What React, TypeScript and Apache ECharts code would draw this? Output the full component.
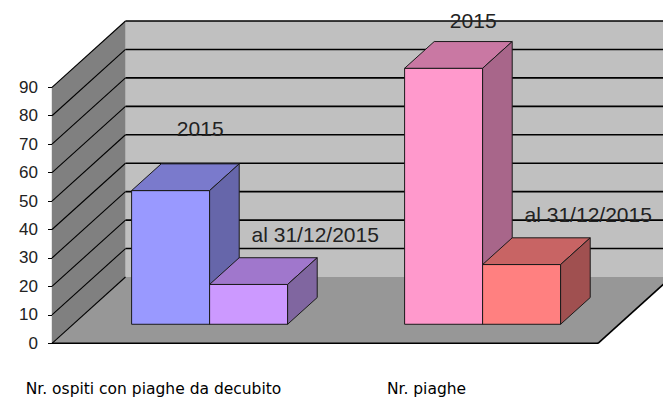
import React, { useEffect, useRef } from "react";
import * as echarts from "echarts";

// ---- data ----
const categories = ["Nr. ospiti con piaghe da decubito", "Nr. piaghe"];
const seriesNames = ["2015", "al 31/12/2015"];
const values2015 = [47, 90];
const valuesAl31 = [14, 21];
const yMin = 0;
const yMax = 90;
const yStep = 10;

// ---- colours (per category) ----
const front2015 = ["#9999ff", "#ff99cc"];
const top2015 = ["#7a7acc", "#c978a3"];
const side2015 = ["#6666aa", "#a8668a"];
const frontAl31 = ["#cc99ff", "#ff8080"];
const topAl31 = ["#a077cc", "#c86464"];
const sideAl31 = ["#8066a0", "#a05050"];

// ---- 3D projection (pixels) ----
const DX = 73.5;
const DY = -66.3;
const F0 = 0.287; // bar front depth fraction
const F1 = 0.69; // bar back depth fraction

const ARIAL = "'Liberation Sans', Arial, sans-serif";

function wallsRender(params: any, api: any) {
  const cs = params.coordSys;
  const L = cs.x;
  const R = cs.x + cs.width;
  const T = cs.y;
  const B = cs.y + cs.height;
  const children: any[] = [];
  children.push({
    type: "polygon",
    shape: { points: [[L + DX, T + DY], [R + DX, T + DY], [R + DX, B + DY], [L + DX, B + DY]] },
    style: { fill: "#c0c0c0" },
  });
  children.push({
    type: "polygon",
    shape: { points: [[L, T], [L + DX, T + DY], [L + DX, B + DY], [L, B]] },
    style: { fill: "#808080" },
  });
  children.push({
    type: "polygon",
    shape: { points: [[L, B], [R, B], [R + DX, B + DY], [L + DX, B + DY]] },
    style: { fill: "#979797" },
  });
  for (let v = yMin; v <= yMax; v += yStep) {
    const y = api.coord([0, v])[1];
    children.push({
      type: "line",
      shape: { x1: L, y1: y, x2: L + DX, y2: y + DY },
      style: { stroke: "#000", lineWidth: 1.1 },
    });
    if (v > yMin) {
      children.push({
        type: "line",
        shape: { x1: L + DX, y1: y + DY, x2: R + DX, y2: y + DY },
        style: { stroke: "#000", lineWidth: 1.6 },
      });
    }
  }
  children.push({
    type: "line",
    shape: { x1: L, y1: B, x2: R, y2: B },
    style: { stroke: "#000", lineWidth: 1.6 },
  });
  children.push({
    type: "line",
    shape: { x1: R, y1: B, x2: R + DX, y2: B + DY },
    style: { stroke: "#000", lineWidth: 1.6 },
  });
  return { type: "group", children };
}

function makeBarRender(
  seriesIdx: number,
  name: string,
  fronts: string[],
  tops: string[],
  sides: string[],
  labelDx: number,
  labelDy: number
) {
  return (params: any, api: any) => {
    const cat = api.value(0);
    const v = api.value(1);
    const base = api.coord([cat, 0]);
    const tp = api.coord([cat, v]);
    const band = api.size([1, 0])[0];
    const bw = band / 3.5;
    const x0 = base[0] + (seriesIdx === 0 ? -bw : 0);
    const x1 = x0 + bw;
    const fdx = DX * F0;
    const fdy = DY * F0;
    const bdx = DX * F1;
    const bdy = DY * F1;
    const yb = base[1] + fdy;
    const yt = tp[1] + fdy;
    const ytb = tp[1] + bdy;
    const ybb = base[1] + bdy;
    const stroke = { stroke: "#1a1a1a", lineWidth: 1, lineJoin: "round" };
    const idx = params.dataIndex;
    const labelX = (x0 + x1) / 2 + bdx + labelDx;
    let labelY = ytb - labelDy;
    if (labelY < 20) labelY = 20;
    return {
      type: "group",
      children: [
        {
          type: "polygon",
          shape: { points: [[x0 + fdx, yt], [x1 + fdx, yt], [x1 + fdx, yb], [x0 + fdx, yb]] },
          style: { fill: fronts[idx], ...stroke },
        },
        {
          type: "polygon",
          shape: { points: [[x0 + fdx, yt], [x1 + fdx, yt], [x1 + bdx, ytb], [x0 + bdx, ytb]] },
          style: { fill: tops[idx], ...stroke },
        },
        {
          type: "polygon",
          shape: { points: [[x1 + fdx, yt], [x1 + bdx, ytb], [x1 + bdx, ybb], [x1 + fdx, yb]] },
          style: { fill: sides[idx], ...stroke },
        },
        {
          type: "text",
          x: labelX,
          y: labelY,
          style: {
            text: name,
            fill: "#222",
            font: "21px " + ARIAL,
            align: "center",
            verticalAlign: "middle",
          },
        },
      ],
    };
  };
}

export default function App() {
  const ref = useRef<HTMLDivElement>(null);
  useEffect(() => {
    if (!ref.current) return;
    const chart = echarts.init(ref.current, undefined, { renderer: "svg" });
    const option: any = {
      animation: false,
      backgroundColor: "#ffffff",
      textStyle: { fontFamily: ARIAL },
      grid: { left: 52, right: 65, top: 87.3, bottom: 58.7, containLabel: false },
      xAxis: {
        type: "category",
        data: categories,
        boundaryGap: true,
        axisLine: { show: false },
        axisTick: { show: false },
        splitLine: { show: false },
        axisLabel: {
          interval: 0,
          margin: 38,
          padding: [0, 70, 0, 0],
          color: "#000",
          fontSize: 15.5,
          fontFamily: "'DejaVu Sans', sans-serif",
        },
      },
      yAxis: {
        type: "value",
        min: yMin,
        max: yMax,
        interval: yStep,
        axisLine: { show: true, lineStyle: { color: "#000", width: 1.2 } },
        axisTick: { show: true, length: 4, lineStyle: { color: "#000" } },
        splitLine: { show: false },
        axisLabel: { color: "#222", fontSize: 17, margin: 14, fontFamily: ARIAL },
      },
      series: [
        {
          type: "custom",
          name: "walls",
          renderItem: wallsRender,
          data: [[0, 0]],
          encode: { x: 0, y: 1 },
          silent: true,
          z: 1,
        },
        {
          type: "custom",
          name: seriesNames[0],
          renderItem: makeBarRender(0, seriesNames[0], front2015, top2015, side2015, 0, 35.5),
          data: values2015.map((v, i) => [i, v]),
          encode: { x: 0, y: 1 },
          z: 2,
        },
        {
          type: "custom",
          name: seriesNames[1],
          renderItem: makeBarRender(1, seriesNames[1], frontAl31, topAl31, sideAl31, 37, 23.5),
          data: valuesAl31.map((v, i) => [i, v]),
          encode: { x: 0, y: 1 },
          z: 3,
        },
      ],
    };
    chart.setOption(option);
    return () => chart.dispose();
  }, []);
  return (
    <div
      ref={ref}
      style={{ width: 663, height: 402, position: "absolute", left: 0, top: 0 }}
    />
  );
}
